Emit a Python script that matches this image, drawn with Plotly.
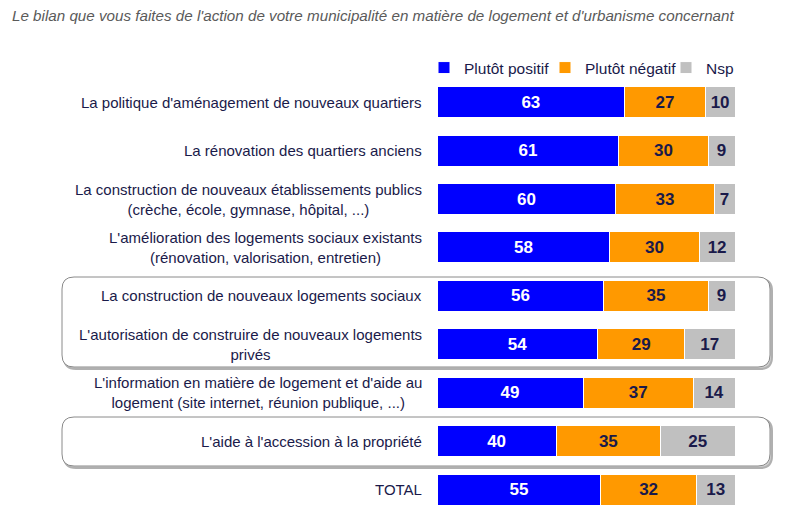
import plotly.graph_objects as go

categories = [
    "La politique d'aménagement de nouveaux quartiers",
    "La rénovation des quartiers anciens",
    "La construction de nouveaux établissements publics<br>(crèche, école, gymnase, hôpital, ...)",
    "L'amélioration des logements sociaux existants<br>(rénovation, valorisation, entretien)",
    "La construction de nouveaux logements sociaux",
    "L'autorisation de construire de nouveaux logements<br>privés",
    "L'information en matière de logement et d'aide au<br>logement (site internet, réunion publique, ...)",
    "L'aide à l'accession à la propriété",
    "TOTAL",
]
positif = [63, 61, 60, 58, 56, 54, 49, 40, 55]
negatif = [27, 30, 33, 30, 35, 29, 37, 35, 32]
nsp = [10, 9, 7, 12, 9, 17, 14, 25, 13]
series_names = ["Plutôt positif", "Plutôt négatif", "Nsp"]
title_text = "Le bilan que vous faites de l'action de votre municipalité en matière de logement et d'urbanisme concernant"

W, H = 800, 512
OFF = 8  # page body margin
# desired on-screen plot area: x 437..735, y 78..505
L = 437 - OFF
T = 78 - OFF
R = W - (735 - OFF)
B = H - (505 - OFF)
PW, PH = W - L - R, H - T - B

def px(x):
    return (x - OFF - L) / PW

def py(y):
    return (H - B - (y - OFF)) / PH

ids = list(range(len(categories)))
FONT = "Liberation Sans, Arial, sans-serif"
TXT = "#1A1A4A"

fig = go.Figure()
colors = ["#0000FF", "#FF9900", "#C0C0C0"]
tcolors = ["white", TXT, TXT]
for name, vals, c, tc in zip(series_names, [positif, negatif, nsp], colors, tcolors):
    fig.add_trace(go.Bar(
        y=ids, x=vals, orientation="h", name=name,
        marker=dict(color=c, line=dict(color="white", width=1)),
        text=[str(v) for v in vals], textposition="inside", insidetextanchor="middle",
        textfont=dict(family=FONT, size=17, color=tc, weight="bold"),
        hoverinfo="skip",
    ))

for i, cat in enumerate(categories):
    fig.add_annotation(
        x=px(424), xref="paper", y=i, yref="y", text=cat, showarrow=False,
        xanchor="right", yanchor="middle", align="center",
        font=dict(family=FONT, size=15, color=TXT),
    )

fig.add_annotation(
    x=px(10), xref="paper", y=py(15), yref="paper", text="<i>" + title_text + "</i>",
    showarrow=False, xanchor="left", yanchor="middle",
    font=dict(family=FONT, size=15.2, color="#5A5A5A"),
)

def rounded(x0, y0, x1, y1, r):
    rx, ry = r / PW, r / PH
    X0, X1, Y0, Y1 = px(x0), px(x1), py(y0), py(y1)
    return (f"M {X0+rx},{Y0} L {X1-rx},{Y0} Q {X1},{Y0} {X1},{Y0-ry} "
            f"L {X1},{Y1+ry} Q {X1},{Y1} {X1-rx},{Y1} L {X0+rx},{Y1} "
            f"Q {X0},{Y1} {X0},{Y1+ry} L {X0},{Y0-ry} Q {X0},{Y0} {X0+rx},{Y0} Z")

shapes = []
for (x0, y0, x1, y1) in [(62, 277, 770, 367), (62, 417, 770, 466)]:
    shapes.append(dict(type="path", xref="paper", yref="paper", layer="below",
                       path=rounded(x0 + 2, y0 + 2, x1 + 2, y1 + 2, 12),
                       line=dict(color="#B0B0B0", width=2), fillcolor="#D0D0D0"))
    shapes.append(dict(type="path", xref="paper", yref="paper", layer="below",
                       path=rounded(x0, y0, x1, y1, 12),
                       line=dict(color="#8A8A8A", width=1), fillcolor="white"))

fig.update_layout(
    width=W, height=H, barmode="stack", bargap=0.36,
    margin=dict(l=L, r=R, t=T, b=B),
    paper_bgcolor="white", plot_bgcolor="rgba(0,0,0,0)",
    showlegend=True,
    legend=dict(orientation="h", x=px(424), xanchor="left", y=py(68), yanchor="middle",
                font=dict(family=FONT, size=15.5, color=TXT),
                itemwidth=30, entrywidth=76, entrywidthmode="pixels",
                traceorder="normal", bgcolor="rgba(0,0,0,0)"),
    xaxis=dict(range=[0, 100], visible=False, fixedrange=True),
    yaxis=dict(range=[8.32, -0.5], visible=False, fixedrange=True),
    shapes=shapes,
    uniformtext=dict(minsize=10, mode="show"),
)

fig.write_html("out.html")
